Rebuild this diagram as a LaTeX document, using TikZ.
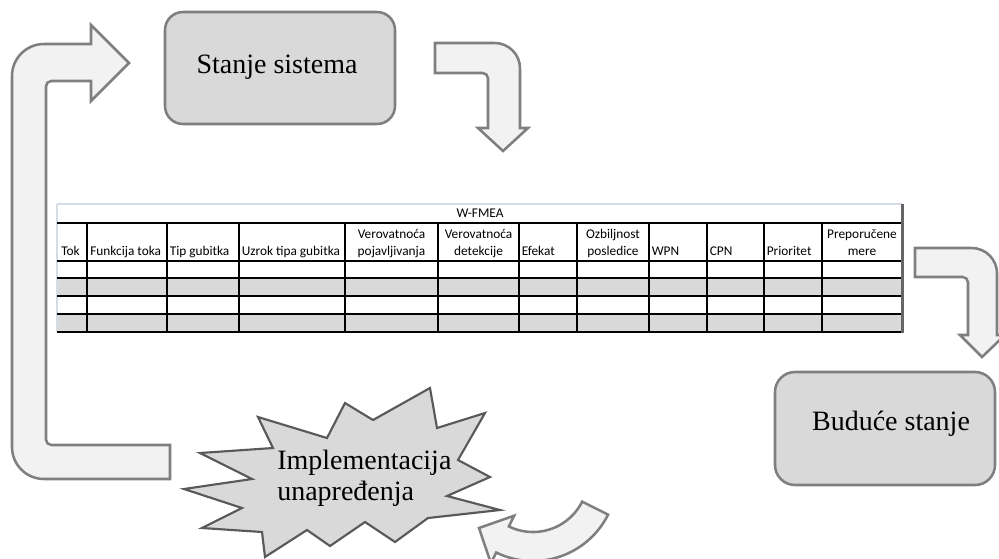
\documentclass[tikz,border=0pt]{standalone}
\usepackage{fontspec}
\setmainfont{Liberation Serif}
\newfontfamily\calibfont{Carlito}
\definecolor{arrowfill}{HTML}{F2F2F2}
\definecolor{boxfill}{HTML}{D9D9D9}
\definecolor{edgegray}{HTML}{7F7F7F}
\definecolor{stardraw}{HTML}{595959}
\definecolor{rowgray}{HTML}{D9D9D9}
\definecolor{faintline}{HTML}{D6DCE4}
\begin{document}
\begin{tikzpicture}[x=0.75pt,y=-0.75pt,
  blockarrow/.style={fill=arrowfill, draw=edgegray, line width=1.9pt, line join=miter},
  statebox/.style={fill=boxfill, draw=edgegray, line width=1.9pt},
  starshape/.style={fill=boxfill, draw=stardraw, line width=1.6pt, line join=miter},
  bigtext/.style={font=\fontsize{21}{24}\selectfont, inner sep=0pt},
  th/.style={font=\calibfont\fontsize{10}{12}\selectfont, inner sep=0pt},
  gridline/.style={line width=0.9pt, draw=black},
  faint/.style={line width=0.9pt, draw=faintline}
]
\useasboundingbox (0,0) rectangle (999,558);
\clip (0,0) rectangle (999,558);

% ---- state boxes ----
\draw[statebox, rounded corners=13.5pt] (165,12) rectangle (395,124);
\node[bigtext, anchor=base] (stanje) at (277,73) {Stanje sistema};

\draw[statebox, rounded corners=15pt] (775,372) rectangle (995,485);
\node[bigtext, anchor=base] (buduce) at (891,430) {Buduće stanje};

% ---- bent arrow below the first box ----
\draw[blockarrow] (503,151) -- (478,128) -- (488,128)
  [rounded corners=4pt] -- (488,73) [sharp corners] -- (435,73) -- (435,43)
  [rounded corners=19pt] -- (520,43) [sharp corners] -- (520,128) -- (528,128) -- cycle;

% ---- bent arrow right of the table ----
\draw[blockarrow] (982,357) -- (960,335) -- (968,335)
  [rounded corners=4pt] -- (968,277) [sharp corners] -- (915,277) -- (915,248)
  [rounded corners=19pt] -- (997,248) [sharp corners] -- (997,335) -- (1005,335) -- cycle;

% ---- large return arrow on the left ----
\draw[blockarrow] (129,63) -- (91,101) -- (91,81)
  [rounded corners=4pt] -- (46,81) -- (46,445) [sharp corners] -- (170,445) -- (170,479)
  [rounded corners=24pt] -- (12,479) -- (12,44) [sharp corners] -- (91,44)
  -- (91,25) -- cycle;

% ---- curved arrow at the bottom ----
\draw[blockarrow] plot[domain=26.6:116, samples=40] ({533+55*cos(\x)},{477+55*sin(\x)})
  -- ({533+43*cos(116)},{477+43*sin(116)}) -- (479,528)
  -- ({533+96*cos(116)},{477+96*sin(116)})
  -- plot[domain=116:26.6, samples=40] ({533+84*cos(\x)},{477+84*sin(\x)}) -- cycle;

% ---- starburst ----
\draw[starshape] (184,489) -- (252,479) -- (200,453) -- (273,448) -- (258,417)
  -- (327,438) -- (345,403) -- (373,420) -- (430,388) -- (437,428) -- (485,413)
  -- (458,460) -- (490,477) -- (447,496) -- (500,510) -- (428,518) -- (395,542)
  -- (365,522) -- (330,546) -- (307,530) -- (265,557) -- (262,532) -- (202,528)
  -- (242,508) -- cycle;
\node[bigtext, anchor=base west] (impl1) at (277,469) {Implementacija};
\node[bigtext, anchor=base west] (impl2) at (277,500) {unapređenja};

% ---- W-FMEA table ----
\fill[rowgray] (57,278) rectangle (902,296);
\fill[rowgray] (57,314) rectangle (902,332);
\draw[faint] (57,204) -- (902,204);
\draw[faint] (57,204) -- (57,332);
\foreach \yy in {223,261,278,296,314,332}
  \draw[gridline] (57,\yy) -- (902,\yy);
\foreach \xx in {87,167,239,345,438,519,577,649,707,764,822}
  \draw[gridline] (\xx,223) -- (\xx,332);
\draw[line width=1.6pt, draw=edgegray!80!black] (902.5,204) -- (902.5,333);

\node[th, anchor=base] (title) at (480,217) {W-FMEA};
\node[th, anchor=base west] (c1) at (61,255.5) {Tok};
\node[th, anchor=base west] (c2) at (90,255.5) {Funkcija toka};
\node[th, anchor=base west] (c3) at (169.5,255.5) {Tip gubitka};
\node[th, anchor=base west] (c4) at (241.5,255.5) {Uzrok tipa gubitka};
\node[th, anchor=base] (c5a) at (391.5,238) {Verovatnoća};
\node[th, anchor=base] (c5b) at (391.5,255.5) {pojavljivanja};
\node[th, anchor=base] (c6a) at (478.5,238) {Verovatnoća};
\node[th, anchor=base] (c6b) at (478.5,255.5) {detekcije};
\node[th, anchor=base west] (c7) at (521.5,255.5) {Efekat};
\node[th, anchor=base] (c8a) at (613,238) {Ozbiljnost};
\node[th, anchor=base] (c8b) at (613,255.5) {posledice};
\node[th, anchor=base west] (c9) at (651.5,255.5) {WPN};
\node[th, anchor=base west] (c10) at (709.5,255.5) {CPN};
\node[th, anchor=base west] (c11) at (766.5,255.5) {Prioritet};
\node[th, anchor=base] (c12a) at (862,238) {Preporučene};
\node[th, anchor=base] (c12b) at (862,255.5) {mere};
\end{tikzpicture}
\end{document}
